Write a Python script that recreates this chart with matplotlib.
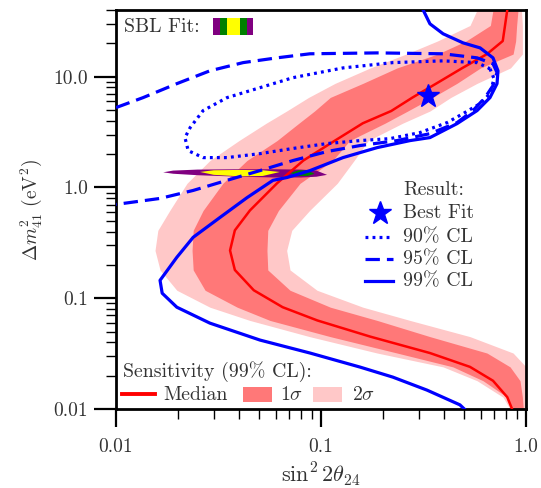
import numpy as np
import matplotlib
matplotlib.use("Agg")
import matplotlib.pyplot as plt
from matplotlib.ticker import LogLocator, FixedLocator, FixedFormatter, NullFormatter

plt.rcParams['font.family'] = 'serif'
plt.rcParams['font.serif'] = ['cmr10', 'DejaVu Serif']
plt.rcParams['mathtext.fontset'] = 'cm'
plt.rcParams['axes.unicode_minus'] = False

# ---------------- data ----------------
# Sensitivity bands (99% CL), as x-edges at each dm2 level
band_dm2 = [0.01, 0.0128, 0.018, 0.024, 0.032, 0.045, 0.063, 0.083, 0.118, 0.18,
            0.27, 0.41, 0.62, 1.09, 1.75, 2.65, 3.8, 4.9, 6.5, 8.7, 12, 16, 21, 29, 40]
median_s = [0.855, 0.81, 0.69, 0.533, 0.34, 0.174, 0.096, 0.065, 0.047, 0.038,
            0.036, 0.038, 0.045, 0.061, 0.082, 0.117, 0.16, 0.22, 0.28, 0.366,
            0.49, 0.645, 0.77, 0.79, 0.81]
sig1_lo = [0.855, 0.808, 0.617, 0.44, 0.235, 0.111, 0.0564, 0.039, 0.0272, 0.0238,
           0.0235, 0.0238, 0.0266, 0.0332, 0.0435, 0.061, 0.078, 0.093, 0.111, 0.16,
           0.235, 0.37, 0.51, 0.67, 0.69]
sig1_hi = [0.97, 0.96, 0.935, 0.836, 0.645, 0.34, 0.188, 0.111, 0.0706, 0.055,
           0.0545, 0.055, 0.062, 0.079, 0.114, 0.138, 0.205, 0.265, 0.35, 0.46,
           0.60, 0.865, 0.89, 0.90, 0.914]
sig2_lo = [0.836, 0.772, 0.577, 0.394, 0.188, 0.088, 0.045, 0.0287, 0.0198, 0.0164,
           0.0155, 0.016, 0.0183, 0.0222, 0.0287, 0.0398, 0.054, 0.068, 0.087, 0.117,
           0.174, 0.26, 0.37, 0.533, 0.577]
sig2_hi = [1.0, 1.0, 1.0, 1.0, 0.865, 0.533, 0.272, 0.16, 0.0956, 0.0706,
           0.068, 0.072, 0.088, 0.12, 0.145, 0.17, 0.25, 0.34, 0.43, 0.577,
           0.84, 0.96, 0.96, 0.96, 0.95]

# Result contours
cl99_x = [0.315, 0.34, 0.394, 0.493, 0.597, 0.69, 0.73, 0.722, 0.667, 0.577, 0.461,
          0.34, 0.272, 0.188, 0.128, 0.0884, 0.0683, 0.0583, 0.0436, 0.0322, 0.0238,
          0.0198, 0.0164, 0.0168, 0.0198, 0.0287, 0.0504, 0.0884, 0.155, 0.224, 0.329,
          0.476, 0.50]
cl99_y = [40, 30, 24.4, 20.2, 18.2, 14.8, 11.3, 8.65, 6.47, 4.94, 3.77,
          2.82, 2.65, 2.29, 1.86, 1.42, 1.23, 1.16, 0.81, 0.537, 0.355,
          0.234, 0.145, 0.111, 0.083, 0.0596, 0.0419, 0.032, 0.0239, 0.0194, 0.0148,
          0.0109, 0.01]

cl95_x = [0.01, 0.01355, 0.0198, 0.0287, 0.0417, 0.061, 0.0884, 0.188, 0.394, 0.577,
          0.69, 0.722, 0.69, 0.631, 0.551, 0.461, 0.34, 0.235, 0.155, 0.107, 0.073,
          0.0504, 0.0348, 0.0238, 0.0164, 0.01]
cl95_y = [5.26, 6.47, 8.65, 11.3, 13.4, 14.8, 16.1, 16.4, 16.1, 14.8,
          13.1, 10.9, 8.3, 6.47, 4.94, 3.85, 3.06, 2.65, 2.39, 2.11, 1.75,
          1.42, 1.16, 0.94, 0.796, 0.703]

cl90_x = [0.667, 0.698, 0.667, 0.597, 0.493, 0.412, 0.304, 0.217, 0.155, 0.107, 0.073,
          0.0504, 0.0348, 0.0266, 0.0225, 0.0217, 0.023, 0.0266, 0.0348, 0.0504, 0.073,
          0.128, 0.224, 0.394, 0.577, 0.667]
cl90_y = [11.8, 9.6, 7.03, 5.71, 4.64, 3.85, 3.13, 2.76, 2.65, 2.49, 2.25,
          2.02, 1.86, 1.86, 2.15, 2.82, 3.47, 4.94, 6.47, 7.96, 9.8,
          12.0, 13.4, 13.9, 13.4, 11.8]

best_fit = (0.332, 6.75)

# SBL fit regions (x, upper dm2, lower dm2)
sbl_purple_x = [0.0170, 0.0190, 0.0250, 0.040, 0.060, 0.080, 0.095, 0.107]
sbl_purple_up = [1.37, 1.42, 1.45, 1.46, 1.46, 1.45, 1.42, 1.30]
sbl_purple_lo = [1.37, 1.33, 1.29, 1.25, 1.23, 1.23, 1.25, 1.30]
sbl_yellow_x = [0.0257, 0.030, 0.040, 0.052, 0.063]
sbl_yellow_up = [1.38, 1.43, 1.44, 1.43, 1.38]
sbl_yellow_lo = [1.38, 1.30, 1.26, 1.27, 1.38]
sbl_green_x = [0.071, 0.078, 0.086, 0.093]
sbl_green_up = [1.35, 1.43, 1.42, 1.33]
sbl_green_lo = [1.35, 1.27, 1.27, 1.33]

x_ticks = [0.01, 0.1, 1.0]
x_ticklabels = ['0.01', '0.1', '1.0']
y_ticks = [0.01, 0.1, 1.0, 10.0]
y_ticklabels = ['0.01', '0.1', '1.0', '10.0']

# ---------------- styles ----------------
C_MED = '#FF0000'
C_1S = '#FF7878'
C_2S = '#FFC8C8'
C_BLUE = '#0000FF'
LW = 2.3
DOT = (0, (0.9, 1.3))
DASH = (0, (4.5, 2.2))

fig = plt.figure(figsize=(5.41, 4.88), dpi=100)
ax = fig.add_axes([0.2144, 0.1619, 0.7579, 0.8176])
ax.set_xscale('log')
ax.set_yscale('log')

ax.fill_betweenx(band_dm2, sig2_lo, sig2_hi, color=C_2S, lw=0, zorder=1)
ax.fill_betweenx(band_dm2, sig1_lo, sig1_hi, color=C_1S, lw=0, zorder=2)

def lens(x, up, lo, color, z):
    xs = list(x) + list(x[::-1])
    ys = list(up) + list(lo[::-1])
    ax.fill(xs, ys, color=color, lw=0, zorder=z)

lens(sbl_purple_x, sbl_purple_up, sbl_purple_lo, '#800080', 3)
lens(sbl_yellow_x, sbl_yellow_up, sbl_yellow_lo, '#FFFF00', 4)
lens(sbl_green_x, sbl_green_up, sbl_green_lo, '#008000', 4)

ax.plot(median_s, band_dm2, color=C_MED, lw=1.8, zorder=5)
ax.plot(cl90_x, cl90_y, color=C_BLUE, lw=LW, ls=DOT, zorder=6)
ax.plot(cl95_x, cl95_y, color=C_BLUE, lw=LW, ls=DASH, zorder=6)
ax.plot(cl99_x, cl99_y, color=C_BLUE, lw=LW, zorder=6)
ax.plot([best_fit[0]], [best_fit[1]], marker='*', color=C_BLUE, ms=17, ls='none', zorder=7)

ax.set_xlim(0.01, 1.0)
ax.set_ylim(0.01, 40)

ax.xaxis.set_major_locator(FixedLocator(x_ticks))
ax.xaxis.set_major_formatter(FixedFormatter(x_ticklabels))
ax.yaxis.set_major_locator(FixedLocator(y_ticks))
ax.yaxis.set_major_formatter(FixedFormatter(y_ticklabels))
ax.xaxis.set_minor_locator(LogLocator(base=10, subs=np.arange(2, 10), numticks=20))
ax.yaxis.set_minor_locator(LogLocator(base=10, subs=np.arange(2, 10), numticks=20))
ax.xaxis.set_minor_formatter(NullFormatter())
ax.yaxis.set_minor_formatter(NullFormatter())
ax.tick_params(which='major', direction='out', width=1.6, labelsize=14,
               colors='black', labelcolor='#333333')
ax.tick_params(axis='x', which='major', length=13, pad=8)
ax.tick_params(axis='y', which='major', length=16, pad=4)
ax.tick_params(which='minor', direction='out', length=7, width=1.0)
ax.tick_params(top=False, right=False, which='both')
for s in ax.spines.values():
    s.set_linewidth(2.0)

ax.set_xlabel(r'$\sin^2 2\theta_{24}$', fontsize=16, color='#333333', labelpad=3)
ax.set_ylabel(r'$\Delta m^2_{41}$ (eV$^2$)', fontsize=14, color='#333333', labelpad=7)

# ---------------- legends (axes fraction) ----------------
tc = '#333333'
fs = 14.3
tr = ax.transAxes
ax.text(0.019, 0.957, 'SBL Fit:', transform=tr, fontsize=fs, color=tc, va='center', ha='left')
sw = [('#800080', 0.2366, 0.2537), ('#008000', 0.2537, 0.2707), ('#FFFF00', 0.2707, 0.3024),
      ('#008000', 0.3024, 0.3195), ('#800080', 0.3195, 0.334)]
for c, a, b in sw:
    ax.add_patch(plt.Rectangle((a, 0.937), b - a, 0.043, transform=tr, color=c, lw=0, zorder=8))

ax.text(0.700, 0.549, 'Result:', transform=tr, fontsize=fs, color=tc, va='center', ha='left')
ax.plot([0.643], [0.491], marker='*', color=C_BLUE, ms=17, transform=tr, ls='none', zorder=8)
ax.text(0.700, 0.491, 'Best Fit', transform=tr, fontsize=fs, color=tc, va='center', ha='left')
for yy, ls, lab in [(0.431, DOT, '90% CL'), (0.376, DASH, '95% CL'), (0.321, '-', '99% CL')]:
    ax.plot([0.607, 0.676], [yy, yy], color=C_BLUE, lw=LW, ls=ls, transform=tr, zorder=8)
    ax.text(0.700, yy, lab, transform=tr, fontsize=fs, color=tc, va='center', ha='left')

ax.text(0.017, 0.093, 'Sensitivity (99% CL):', transform=tr, fontsize=fs, color=tc,
        va='center', ha='left')
ax.plot([0.015, 0.095], [0.0376, 0.0376], color=C_MED, lw=2.8, transform=tr, zorder=8)
ax.text(0.115, 0.035, 'Median', transform=tr, fontsize=fs, color=tc, va='center', ha='left')
ax.add_patch(plt.Rectangle((0.310, 0.0175), 0.070, 0.0375, transform=tr, color=C_1S, lw=0, zorder=8))
ax.text(0.40, 0.035, r'$1\sigma$', transform=tr, fontsize=fs, color=tc, va='center', ha='left')
ax.add_patch(plt.Rectangle((0.480, 0.0175), 0.071, 0.0375, transform=tr, color=C_2S, lw=0, zorder=8))
ax.text(0.576, 0.035, r'$2\sigma$', transform=tr, fontsize=fs, color=tc, va='center', ha='left')

fig.savefig('out.png', dpi=100)
